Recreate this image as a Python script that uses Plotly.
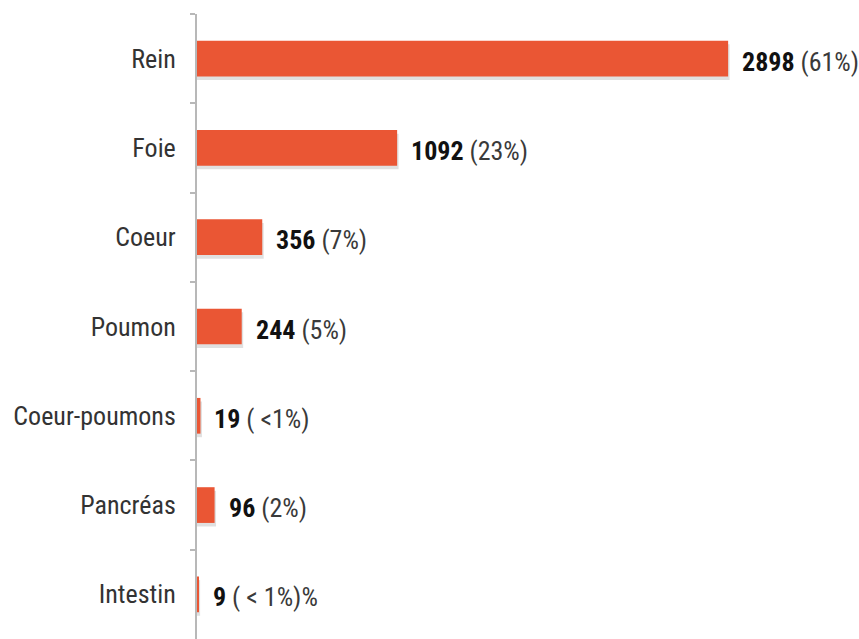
import plotly.graph_objects as go

categories = ["Rein", "Foie", "Coeur", "Poumon", "Coeur-poumons", "Pancréas", "Intestin"]
values = [2898, 1092, 356, 244, 19, 96, 9]
pct_labels = ["(61%)", "(23%)", "(7%)", "(5%)", "( <1%)", "(2%)", "( < 1%)%"]

FONT = "Roboto Condensed, Liberation Sans Narrow, sans-serif"
BAR = "#EA5634"

fig = go.Figure()
# soft drop shadow
fig.add_trace(go.Bar(
    y=categories, x=[v + 8 for v in values], orientation="h",
    width=0.4, offset=-0.16,
    marker=dict(color="rgba(0,0,0,0.12)", line=dict(width=0)),
    hoverinfo="skip", showlegend=False,
))
fig.add_trace(go.Bar(
    y=categories, x=values, orientation="h",
    width=0.4, offset=-0.2,
    marker=dict(color=BAR, line=dict(width=0)),
    showlegend=False,
))

for c, v, p in zip(categories, values, pct_labels):
    fig.add_annotation(
        x=v, y=c, xref="x", yref="y",
        text=f"<b>{v}</b> <span style='color:#3a3a3a'>{p}</span>",
        showarrow=False, xanchor="left", yanchor="middle",
        xshift=12, yshift=-3,
        font=dict(family=FONT, size=26, color="#111"),
    )

fig.update_layout(
    width=859, height=639,
    margin=dict(l=197, r=0, t=14, b=0),
    plot_bgcolor="white", paper_bgcolor="white",
    barmode="overlay",
    font=dict(family=FONT, size=26, color="#333"),
)
fig.update_xaxes(range=[0, 3612], visible=False, showgrid=False)
fig.update_yaxes(
    categoryorder="array", categoryarray=categories,
    range=[6.5, -0.5], automargin=False,
    showline=True, linecolor="#b8b8b8", linewidth=2,
    ticks="outside", tickson="boundaries", ticklen=5, tickcolor="#b8b8b8", tickwidth=2,
    ticklabelstandoff=14,
    tickfont=dict(family=FONT, size=26, color="#333"),
    showgrid=False, zeroline=False,
)

fig.write_html("out.html")
